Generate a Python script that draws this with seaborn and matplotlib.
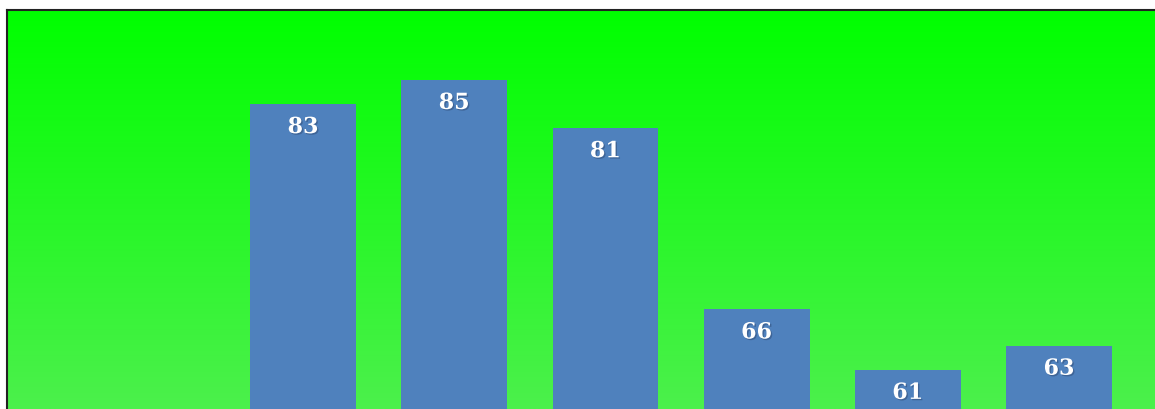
import numpy as np
import pandas as pd
import matplotlib
matplotlib.use("Agg")
import matplotlib.pyplot as plt
import matplotlib.patheffects as pe
import seaborn as sns

categories = ["1", "2", "3", "4", "5", "6"]
values = [83, 85, 81, 66, 61, 63]
labels = ["83", "85", "81", "66", "61", "63"]

sns.set_theme(style="white")
plt.rcParams['font.family'] = ['DejaVu Serif']

W, H = 1155, 409
fig = plt.figure(figsize=(W / 100, H / 100), dpi=100)
fig.patch.set_facecolor("white")
ax = fig.add_axes([7 / W, 0, 1 - 7 / W, 1 - 10 / H])

df = pd.DataFrame({"cat": categories, "val": values})
sns.barplot(data=df, x="cat", y="val", color="#4F81BD", saturation=1,
            width=0.70, ax=ax, zorder=2, linewidth=0, edgecolor="none")

# gradient background
n = 256
t = np.linspace(0, 1, n)[:, None]
top = np.array([0, 255, 0]) / 255
bot = np.array([76, 240, 76]) / 255
grad = top + (bot - top) * t
img = np.repeat(grad[:, None, :], 2, axis=1)
ax.imshow(img, extent=[0, 1, 0, 1], transform=ax.transAxes, aspect="auto",
          zorder=0, interpolation="bilinear")

ax.set_xlim(-1.958, 5.635)
ax.set_ylim(57.76, 90.79)

for i, (v, lab) in enumerate(zip(values, labels)):
    ax.annotate(lab, (i, v), xytext=(0, -23), textcoords="offset pixels",
                ha="center", va="center", color="white", fontsize=16,
                fontweight="bold", zorder=3,
                path_effects=[pe.withSimplePatchShadow(offset=(1, -1), shadow_rgbFace="#203050", alpha=0.35)])

ax.set_xticks([])
ax.set_yticks([])
ax.set_xlabel("")
ax.set_ylabel("")
for s in ["right", "bottom"]:
    ax.spines[s].set_visible(False)
for s in ["left", "top"]:
    ax.spines[s].set_visible(True)
    ax.spines[s].set_color("#222222")
    ax.spines[s].set_linewidth(1.5)

fig.savefig("out.png", dpi=100)
